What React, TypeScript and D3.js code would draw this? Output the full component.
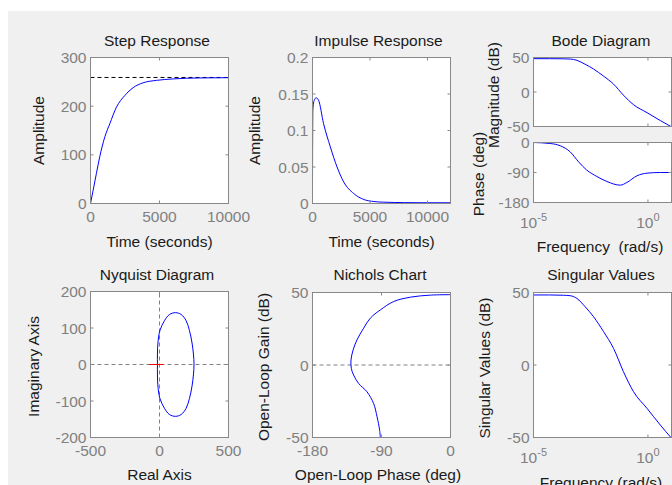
import * as d3 from "d3";
import React from "react";

const FONT = "'Liberation Sans', Arial, sans-serif";
const BLUE = "#0000ff";
const TICK_GRAY = "#808080";
const BOX_GRAY = "#888888";

// step response
const stepTime = [0, 190, 430, 670, 1040, 1400, 1880, 2490, 3090, 3810, 4780, 5990, 7920, 10000];
const stepAmp = [0, 27, 62, 96, 137, 164, 198, 222, 238, 248, 253, 256, 258, 258.5];
const stepFinal = 259;
const stepXTicks = [0, 5000, 10000];
const stepYTicks = [0, 100, 200, 300];

// impulse response
const impulseTime = [0, 30, 150, 320, 525, 960, 1550, 2130, 2710, 3580, 4460, 5330, 6200, 8000, 10000, 12000];
const impulseAmp = [0.028, 0.128, 0.1415, 0.1447, 0.1415, 0.1096, 0.0776, 0.0502, 0.0296, 0.0137, 0.0055, 0.0027, 0.0018, 0.0012, 0.001, 0.001];
const impulseXTicks = [0, 5000, 10000];
const impulseYTicks = [0, 0.05, 0.1, 0.15, 0.2];
const impulseYLabels = ["0", "0.05", "0.1", "0.15", "0.2"];

// bode magnitude / singular values (rad/s, dB)
const magFreq = [1e-5, 5e-5, 2e-4, 4e-4, 7.9e-4, 1.8e-3, 4.2e-3, 0.0115, 0.0316, 0.085, 0.234, 0.91, 3.47, 10.7];
const magDb = [48.3, 48.3, 48.1, 47.8, 45.9, 40.2, 33.3, 23, 11.4, -4.6, -18.4, -29.9, -41.4, -50.5];
const svDb = magDb;

// bode phase (deg)
const phaseFreq = [1e-5, 5.4e-5, 1.5e-4, 4e-4, 9.3e-4, 2.1e-3, 5.9e-3, 0.0162, 0.0617, 0.12, 0.33, 0.91, 3.47, 10.7];
const phaseDeg = [0, -3, -10, -28, -58, -82.5, -102, -117, -128, -120, -100, -92, -90, -90];
const magTicks = [-50, 0, 50];
const phaseTicks = [-180, -90, 0];
const freqTicks = [1e-5, 1];

// nyquist (real, imag)
const nyqRe = [250, 237, 217, 193, 157, 116, 72, 36, 3, -12, -15, -12, 3, 36, 72, 116, 157, 193, 217, 237];
const nyqIm = [0, 56, 93, 120, 137, 142, 137, 120, 93, 56, 0, -56, -93, -120, -137, -142, -137, -120, -93, -56];
const nyqXTicks = [-500, 0, 500];
const nyqYTicks = [-200, -100, 0, 100, 200];

// nichols (phase deg, gain dB)
const nicPhase = [0, -26, -52, -74, -91.5, -104.6, -113.3, -122, -127, -129.8, -129.4, -126.4, -119.9, -108.9, -100.3, -95.8, -92.4, -91.5];
const nicGain = [48.5, 48.2, 46.8, 43.8, 38, 32.3, 25.4, 17.3, 10.4, 3.5, -2.3, -6.9, -12.7, -18.5, -26.5, -35.7, -45, -50.5];
const nicXTicks = [-180, -90, 0];
const nicYTicks = [-50, 0, 50];

type Scale = (v: number) => number;

function Axes(props: {
  id: string;
  x: any;
  y: any;
  xTicks: number[];
  yTicks: number[];
  yLabels?: string[];
  xLabel?: (v: number) => React.ReactNode;
  showX?: boolean;
  logX?: boolean;
  children?: React.ReactNode;
}) {
  const { id, x, y, xTicks, yTicks, yLabels, showX = true, logX = false } = props;
  const [x0, x1] = x.range();
  const [yb, yt] = y.range();
  return (
    <g>
      <rect x={x0} y={yt} width={x1 - x0} height={yb - yt} fill="#fff" />
      <clipPath id={id}>
        <rect x={x0} y={yt} width={x1 - x0} height={yb - yt} />
      </clipPath>
      <g clipPath={`url(#${id})`}>{props.children}</g>
      <g stroke={BOX_GRAY} strokeWidth={1}>
        {xTicks.map((t) => (
          <g key={t}>
            <line x1={x(t)} x2={x(t)} y1={yb} y2={yb - 3} />
            <line x1={x(t)} x2={x(t)} y1={yt} y2={yt + 3} />
          </g>
        ))}
        {yTicks.map((t) => (
          <g key={t}>
            <line x1={x0} x2={x0 + 3} y1={y(t)} y2={y(t)} />
            <line x1={x1} x2={x1 - 3} y1={y(t)} y2={y(t)} />
          </g>
        ))}
      </g>
      <rect x={x0} y={yt} width={x1 - x0} height={yb - yt} fill="none" stroke={BOX_GRAY} />
      <g fill={TICK_GRAY} fontSize={15.5} fontFamily={FONT}>
        {yTicks.map((t, i) => (
          <text key={t} x={x0 - 4} y={y(t)} dy="0.36em" textAnchor="end">
            {yLabels ? yLabels[i] : String(t)}
          </text>
        ))}
        {showX &&
          xTicks.map((t) =>
            logX ? (
              <text key={t} x={x(t)} y={yb + 25.5} textAnchor="middle">
                10
                <tspan dy={-7.5} fontSize={11}>
                  {Math.round(Math.log10(t))}
                </tspan>
              </text>
            ) : (
              <text key={t} x={x(t)} y={yb + 18.5} textAnchor="middle">
                {t}
              </text>
            )
          )}
      </g>
    </g>
  );
}

function Title({ x, y, text }: { x: number; y: number; text: string }) {
  return (
    <text x={x} y={y} textAnchor="middle" fontSize={15.5} fontFamily={FONT} fill="#1a1a1a">
      {text}
    </text>
  );
}

function YLabel({ x, y, text }: { x: number; y: number; text: string }) {
  return (
    <text
      transform={`translate(${x},${y}) rotate(-90)`}
      textAnchor="middle"
      fontSize={15.5}
      fontFamily={FONT}
      fill="#1a1a1a"
    >
      {text}
    </text>
  );
}

export default function App() {
  // step
  const sx = d3.scaleLinear().domain([0, 10000]).range([90.5, 228.5]);
  const sy = d3.scaleLinear().domain([0, 300]).range([203.5, 57.5]);
  const stepLine = d3
    .line<number>()
    .x((_, i) => sx(stepTime[i]))
    .y((d) => sy(d))
    .curve(d3.curveMonotoneX)(stepAmp)!;

  // impulse
  const ix = d3.scaleLinear().domain([0, 12000]).range([312.5, 450.5]);
  const iy = d3.scaleLinear().domain([0, 0.2]).range([203.5, 57.5]);
  const impLine = d3
    .line<number>()
    .x((_, i) => ix(impulseTime[i]))
    .y((d) => iy(d))
    .curve(d3.curveMonotoneX)(impulseAmp)!;

  // bode
  const bx = d3.scaleLog().domain([1e-5, 10.7]).range([533.5, 671.5]);
  const bmy = d3.scaleLinear().domain([-50, 50]).range([126.5, 57.5]);
  const bpy = d3.scaleLinear().domain([-180, 0]).range([202.5, 142.5]);
  const magLine = d3
    .line<number>()
    .x((_, i) => bx(magFreq[i]))
    .y((d) => bmy(d))
    .curve(d3.curveMonotoneX)(magDb)!;
  const phaseLine = d3
    .line<number>()
    .x((_, i) => bx(phaseFreq[i]))
    .y((d) => bpy(d))
    .curve(d3.curveMonotoneX)(phaseDeg)!;

  // nyquist
  const nx = d3.scaleLinear().domain([-500, 500]).range([90.5, 228.5]);
  const ny = d3.scaleLinear().domain([-200, 200]).range([437.5, 291.5]);
  const nyqLine = d3
    .line<number>()
    .x((_, i) => nx(nyqRe[i]))
    .y((d) => ny(d))
    .curve(d3.curveCatmullRomClosed)(nyqIm)!;

  // nichols
  const cx = d3.scaleLinear().domain([-180, 0]).range([312.5, 450.5]);
  const cy = d3.scaleLinear().domain([-50, 50]).range([437.5, 292.5]);
  const nicLine = d3
    .line<number>()
    .x((_, i) => cx(nicPhase[i]))
    .y((d) => cy(d))
    .curve(d3.curveCatmullRom)(nicGain)!;

  // singular values
  const vx = d3.scaleLog().domain([1e-5, 10.7]).range([533.5, 671.5]);
  const vy = d3.scaleLinear().domain([-50, 50]).range([437.5, 292.5]);
  const svLine = d3
    .line<number>()
    .x((_, i) => vx(magFreq[i]))
    .y((d) => vy(d))
    .curve(d3.curveMonotoneX)(svDb)!;

  return (
    <div style={{ position: "absolute", left: 0, top: 0 }}>
      <svg width={672} height={485} style={{ display: "block" }}>
        <rect width={672} height={485} fill="#fff" />
        <rect x={8} y={11} width={664} height={474} fill="#f0f0f0" />

        {/* step response */}
        <Axes id="c1" x={sx} y={sy} xTicks={stepXTicks} yTicks={stepYTicks}>
          <line x1={sx(0)} x2={sx(10000)} y1={sy(stepFinal)} y2={sy(stepFinal)} stroke="#000" strokeDasharray="4,3" />
          <path d={stepLine} fill="none" stroke={BLUE} />
        </Axes>
        <Title x={157} y={46} text="Step Response" />
        <YLabel x={44} y={130.5} text="Amplitude" />
        <text x={159.5} y={247} textAnchor="middle" fontSize={15.5} fontFamily={FONT} fill="#1a1a1a">
          Time (seconds)
        </text>

        {/* impulse response */}
        <Axes id="c2" x={ix} y={iy} xTicks={impulseXTicks} yTicks={impulseYTicks} yLabels={impulseYLabels}>
          <line x1={ix(0)} x2={ix(12000)} y1={iy(0)} y2={iy(0)} stroke="#000" strokeDasharray="4,3" />
          <path d={impLine} fill="none" stroke={BLUE} />
        </Axes>
        <Title x={378.5} y={46} text="Impulse Response" />
        <YLabel x={260} y={130.5} text="Amplitude" />
        <text x={381.5} y={247} textAnchor="middle" fontSize={15.5} fontFamily={FONT} fill="#1a1a1a">
          Time (seconds)
        </text>

        {/* bode */}
        <Axes id="c3" x={bx} y={bmy} xTicks={freqTicks} yTicks={magTicks} showX={false} logX>
          <path d={magLine} fill="none" stroke={BLUE} />
        </Axes>
        <Axes id="c4" x={bx} y={bpy} xTicks={freqTicks} yTicks={phaseTicks} logX>
          <path d={phaseLine} fill="none" stroke={BLUE} />
        </Axes>
        <Title x={601} y={46} text="Bode Diagram" />
        <YLabel x={483.5} y={174} text="Phase (deg)" />
        <YLabel x={499} y={95} text="Magnitude (dB)" />
        <text x={600} y={252} textAnchor="middle" fontSize={15.5} fontFamily={FONT} fill="#1a1a1a" xmlSpace="preserve">
          Frequency  (rad/s)
        </text>

        {/* nyquist */}
        <Axes id="c5" x={nx} y={ny} xTicks={nyqXTicks} yTicks={nyqYTicks}>
          <line x1={nx(-500)} x2={nx(500)} y1={ny(0)} y2={ny(0)} stroke="#808080" strokeDasharray="4,3" />
          <line x1={nx(0)} x2={nx(0)} y1={ny(-200)} y2={ny(200)} stroke="#808080" strokeDasharray="4,3" />
          <path d={nyqLine} fill="none" stroke={BLUE} />
          <line x1={nx(-1) - 10} x2={nx(-1) + 4} y1={ny(0)} y2={ny(0)} stroke="#ff0000" />
        </Axes>
        <Title x={157} y={279.5} text="Nyquist Diagram" />
        <YLabel x={38.5} y={366.5} text="Imaginary Axis" />
        <text x={159.5} y={479.5} textAnchor="middle" fontSize={15.5} fontFamily={FONT} fill="#1a1a1a">
          Real Axis
        </text>

        {/* nichols */}
        <Axes id="c6" x={cx} y={cy} xTicks={nicXTicks} yTicks={nicYTicks}>
          <line x1={cx(-180)} x2={cx(0)} y1={cy(0)} y2={cy(0)} stroke="#808080" strokeDasharray="4,3" />
          <path d={nicLine} fill="none" stroke={BLUE} />
        </Axes>
        <Title x={380} y={279.5} text="Nichols Chart" />
        <YLabel x={268.5} y={367} text="Open-Loop Gain (dB)" />
        <text x={378} y={479.5} textAnchor="middle" fontSize={15.5} fontFamily={FONT} fill="#1a1a1a">
          Open-Loop Phase (deg)
        </text>

        {/* singular values */}
        <Axes id="c7" x={vx} y={vy} xTicks={freqTicks} yTicks={nicYTicks} logX>
          <path d={svLine} fill="none" stroke={BLUE} />
        </Axes>
        <Title x={601} y={279.5} text="Singular Values" />
        <YLabel x={490} y={368} text="Singular Values (dB)" />
        <text x={601} y={488} textAnchor="middle" fontSize={15.5} fontFamily={FONT} fill="#1a1a1a">
          Frequency (rad/s)
        </text>
      </svg>
    </div>
  );
}
